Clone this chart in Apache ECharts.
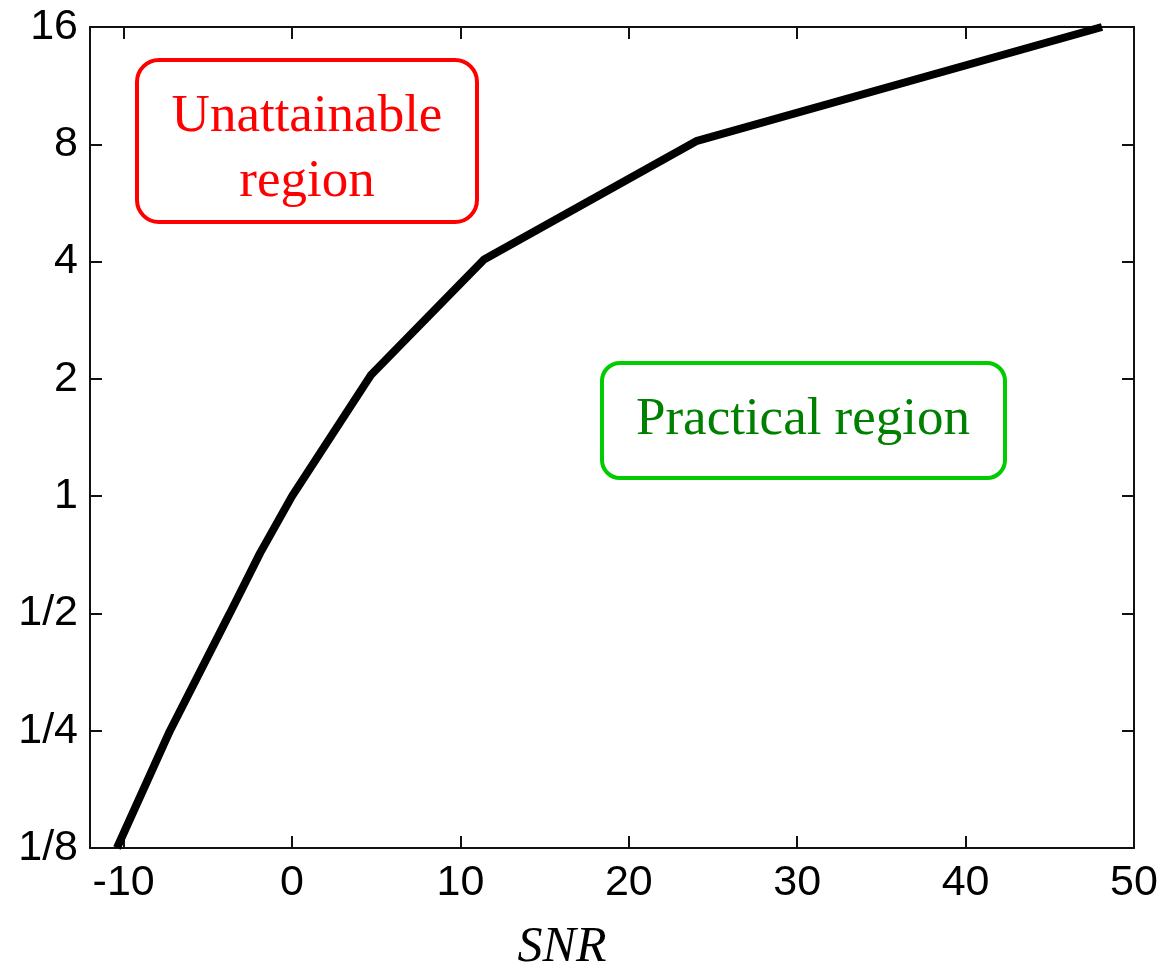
<!DOCTYPE html>
<html>
<head>
<meta charset="utf-8">
<script src="https://cdn.jsdelivr.net/npm/echarts@6/dist/echarts.min.js"></script>
<style>
  html, body { margin: 0; padding: 0; background: #fff; }
  #main { width: 1165px; height: 974px; }
</style>
</head>
<body>
<div id="main"></div>
<script>
// curve: SNR (dB) vs rate
var snr  = [-10.4, -7.25, -3.7, -1.9, 0, 4.7, 11.4, 24.0, 48.1];
var rate = [0.125, 0.25, 0.5, 0.714, 1, 2.05, 4.05, 8.15, 16];
var xTicks = [-10, 0, 10, 20, 30, 40, 50];
var yTicks = [0.125, 0.25, 0.5, 1, 2, 4, 8, 16];

var points = [];
for (let i = 0; i < snr.length; i++) {
  points.push([snr[i], rate[i]]);
}

function fracLabel(v) {
  if (v < 1) return '1/' + Math.round(1 / v);
  return String(Math.round(v));
}

var axisLine = { show: true, onZero: false, lineStyle: { color: '#111', width: 2 } };
var tick = { show: true, inside: true, length: 12, lineStyle: { color: '#111', width: 2 } };
var labelFont = { color: '#000', fontFamily: 'Liberation Sans', fontSize: 43 };

var chart = echarts.init(document.getElementById('main'));
chart.setOption({
  animation: false,
  backgroundColor: '#fff',
  grid: { left: 90, right: 31, top: 27, bottom: 126, containLabel: false, outerBoundsMode: 'none' },
  xAxis: [{
    type: 'value',
    min: -12,
    max: 50,
    axisLine: axisLine,
    axisTick: Object.assign({ customValues: xTicks }, tick),
    axisLabel: Object.assign({ customValues: xTicks, margin: 14, showMaxLabel: true }, labelFont),
    splitLine: { show: false }
  }, {
    type: 'value',
    position: 'top',
    min: -12,
    max: 50,
    axisLine: axisLine,
    axisTick: Object.assign({ customValues: xTicks }, tick),
    axisLabel: { show: false },
    splitLine: { show: false }
  }],
  yAxis: [{
    type: 'log',
    logBase: 2,
    min: 0.125,
    max: 16,
    splitNumber: 7,
    axisLine: axisLine,
    axisTick: Object.assign({ customValues: yTicks }, tick),
    axisLabel: Object.assign({ customValues: yTicks, margin: 12, formatter: fracLabel }, labelFont),
    splitLine: { show: false }
  }, {
    type: 'log',
    logBase: 2,
    position: 'right',
    min: 0.125,
    max: 16,
    splitNumber: 7,
    axisLine: axisLine,
    axisTick: Object.assign({ customValues: yTicks }, tick),
    axisLabel: { show: false },
    splitLine: { show: false }
  }],
  series: [{
    type: 'line',
    data: points,
    showSymbol: false,
    lineStyle: { color: '#000', width: 8 },
    clip: true
  }],
  graphic: [
    {
      type: 'rect',
      shape: { x: 137, y: 60, width: 340, height: 162, r: 22 },
      style: { fill: '#fff', stroke: '#ff0000', lineWidth: 4 }
    },
    {
      type: 'text',
      x: 307, y: 150,
      style: {
        text: 'Unattainable\nregion',
        fill: '#ff0000',
        font: '53px "Liberation Serif"',
        align: 'center',
        verticalAlign: 'middle',
        lineHeight: 65
      }
    },
    {
      type: 'rect',
      shape: { x: 602, y: 363, width: 403, height: 115, r: 18 },
      style: { fill: '#fff', stroke: '#00cc00', lineWidth: 4 }
    },
    {
      type: 'text',
      x: 803, y: 420,
      style: {
        text: 'Practical region',
        fill: '#008000',
        font: '53px "Liberation Serif"',
        align: 'center',
        verticalAlign: 'middle'
      }
    },
    {
      type: 'text',
      x: 562, y: 948,
      style: {
        text: 'SNR',
        fill: '#000',
        font: 'italic 50px "Liberation Serif"',
        align: 'center',
        verticalAlign: 'middle'
      }
    }
  ]
});
</script>
</body>
</html>
